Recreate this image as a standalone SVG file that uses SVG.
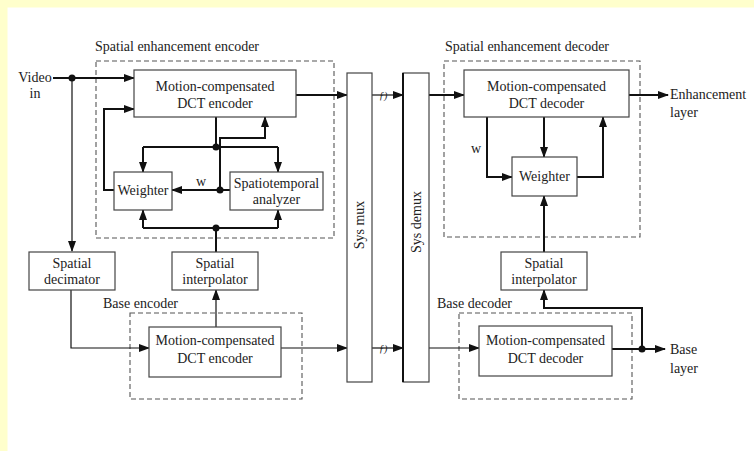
<svg xmlns="http://www.w3.org/2000/svg" width="754" height="451" viewBox="0 0 754 451">
<style>
.t{font-family:"Liberation Serif","Times New Roman",serif;font-size:14px;fill:#222}
.box{fill:#fff;stroke:#444;stroke-width:1.2}
.dash{fill:none;stroke:#555;stroke-width:1.1;stroke-dasharray:5,3}
.thick{fill:none;stroke:#111;stroke-width:2}
.thin{fill:none;stroke:#111;stroke-width:1.2}
.dot{fill:#111}
</style>
<defs>
<marker id="ah" markerUnits="userSpaceOnUse" markerWidth="11" markerHeight="8" refX="10" refY="4" orient="auto">
<path d="M0,0 L11,4 L0,8 z" fill="#111"/>
</marker>
</defs>
<rect x="0" y="0" width="754" height="451" fill="#fff"/>
<rect x="0" y="0" width="754" height="7.5" fill="#ffffcc"/>
<rect x="0" y="0" width="7.5" height="451" fill="#ffffcc"/>

<!-- group frames -->
<g id="enh-encoder-frame">
<rect class="dash" x="96" y="61" width="238" height="177"/>
<text class="t" x="95" y="51">Spatial enhancement encoder</text>
</g>
<g id="base-encoder-frame">
<rect class="dash" x="130" y="313" width="172" height="86"/>
<text class="t" x="103" y="308">Base encoder</text>
</g>
<g id="enh-decoder-frame">
<rect class="dash" x="444" y="61" width="196" height="176"/>
<text class="t" x="445" y="51">Spatial enhancement decoder</text>
</g>
<g id="base-decoder-frame">
<rect class="dash" x="459" y="313" width="173" height="86"/>
<text class="t" x="437" y="308">Base decoder</text>
</g>

<!-- connectors -->
<g id="connectors">
<path class="thick" d="M53,78 H134" marker-end="url(#ah)"/>
<path class="thin" d="M72,78 V251" marker-end="url(#ah)"/>
<path class="thick" d="M296,95 H347" marker-end="url(#ah)"/>
<path class="thick" d="M114,190 H104 V109 H134" marker-end="url(#ah)"/>
<path class="thick" d="M216,117 V147"/>
<path class="thick" d="M143,147 H278"/>
<path class="thick" d="M143,147 V172" marker-end="url(#ah)"/>
<path class="thick" d="M278,147 V172" marker-end="url(#ah)"/>
<path class="thick" d="M230,190 H172" marker-end="url(#ah)"/>
<path class="thick" d="M220,190 V138 H265 V117" marker-end="url(#ah)"/>
<path class="thick" d="M143,228 H278"/>
<path class="thick" d="M143,228 V210" marker-end="url(#ah)"/>
<path class="thick" d="M278,228 V210" marker-end="url(#ah)"/>
<path class="thick" d="M216,252 V228"/>
<path class="thin" d="M216,327 V290" marker-end="url(#ah)"/>
<path class="thin" d="M71,290 V348 H149" marker-end="url(#ah)"/>
<path class="thin" d="M281,348 H347" marker-end="url(#ah)"/>
<path class="thin" d="M372,95 H403" marker-end="url(#ah)"/>
<path class="thin" d="M372,348 H403" marker-end="url(#ah)"/>
<path class="thick" d="M429,95 H464" marker-end="url(#ah)"/>
<path class="thick" d="M629,95 H668" marker-end="url(#ah)"/>
<path class="thick" d="M487,117 V177 H512" marker-end="url(#ah)"/>
<path class="thick" d="M544,117 V157" marker-end="url(#ah)"/>
<path class="thick" d="M577,177 H603 V117" marker-end="url(#ah)"/>
<path class="thick" d="M544,252 V196" marker-end="url(#ah)"/>
<path class="thin" d="M429,348 H479" marker-end="url(#ah)"/>
<path class="thick" d="M612,349 H665" marker-end="url(#ah)"/>
<path class="thick" d="M642,349 V308 H544 V290" marker-end="url(#ah)"/>
<circle class="dot" cx="72" cy="78" r="3.5"/>
<circle class="dot" cx="216" cy="147" r="3.5"/>
<circle class="dot" cx="220" cy="190" r="3.5"/>
<circle class="dot" cx="216" cy="228" r="3.5"/>
<circle class="dot" cx="642" cy="349" r="3.5"/>
<text class="t" x="196" y="186">w</text>
<text class="t" x="471" y="153">w</text>
<text class="t" x="379" y="99" style="font-size:10px;font-style:italic">ƒ)</text>
<text class="t" x="379" y="352" style="font-size:10px;font-style:italic">ƒ)</text>
</g>

<!-- nodes -->
<g id="video-in"><text class="t" x="35" y="82" text-anchor="middle">Video</text><text class="t" x="35" y="98" text-anchor="middle">in</text></g>
<g id="enh-mc-encoder"><rect class="box" x="134" y="70" width="162" height="47"/><text class="t" x="215" y="91" text-anchor="middle">Motion-compensated</text><text class="t" x="215" y="108" text-anchor="middle">DCT encoder</text></g>
<g id="enc-weighter"><rect class="box" x="114" y="172" width="58" height="38"/><text class="t" x="143" y="195" text-anchor="middle">Weighter</text></g>
<g id="spatiotemporal-analyzer"><rect class="box" x="230" y="172" width="93" height="38"/><text class="t" x="276.5" y="188" text-anchor="middle">Spatiotemporal</text><text class="t" x="276.5" y="204" text-anchor="middle">analyzer</text></g>
<g id="spatial-decimator"><rect class="box" x="29" y="252" width="86" height="38"/><text class="t" x="72" y="268" text-anchor="middle">Spatial</text><text class="t" x="72" y="284" text-anchor="middle">decimator</text></g>
<g id="enc-spatial-interpolator"><rect class="box" x="172" y="252" width="86" height="38"/><text class="t" x="215" y="268" text-anchor="middle">Spatial</text><text class="t" x="215" y="284" text-anchor="middle">interpolator</text></g>
<g id="base-mc-encoder"><rect class="box" x="149" y="327" width="132" height="50"/><text class="t" x="215" y="345" text-anchor="middle">Motion-compensated</text><text class="t" x="215" y="363" text-anchor="middle">DCT encoder</text></g>
<g id="sys-mux"><rect class="box" x="347" y="73" width="25" height="309"/><text class="t" transform="translate(364,225) rotate(-90)" text-anchor="middle">Sys mux</text></g>
<g id="sys-demux"><rect class="box" x="403" y="73" width="26" height="309"/><line x1="403" y1="73" x2="403" y2="382" stroke="#111" stroke-width="2"/><text class="t" transform="translate(421,222) rotate(-90)" text-anchor="middle">Sys demux</text></g>
<g id="enh-mc-decoder"><rect class="box" x="464" y="70" width="165" height="47"/><text class="t" x="546.5" y="91" text-anchor="middle">Motion-compensated</text><text class="t" x="546.5" y="108" text-anchor="middle">DCT decoder</text></g>
<g id="dec-weighter"><rect class="box" x="512" y="157" width="65" height="39"/><text class="t" x="544.5" y="181" text-anchor="middle">Weighter</text></g>
<g id="dec-spatial-interpolator"><rect class="box" x="501" y="252" width="86" height="38"/><text class="t" x="544" y="268" text-anchor="middle">Spatial</text><text class="t" x="544" y="284" text-anchor="middle">interpolator</text></g>
<g id="base-mc-decoder"><rect class="box" x="479" y="326" width="133" height="50"/><text class="t" x="545.5" y="345" text-anchor="middle">Motion-compensated</text><text class="t" x="545.5" y="363" text-anchor="middle">DCT decoder</text></g>
<g id="enhancement-layer"><text class="t" x="670" y="99">Enhancement</text><text class="t" x="670" y="117">layer</text></g>
<g id="base-layer"><text class="t" x="670" y="354">Base</text><text class="t" x="670" y="373">layer</text></g>
</svg>
